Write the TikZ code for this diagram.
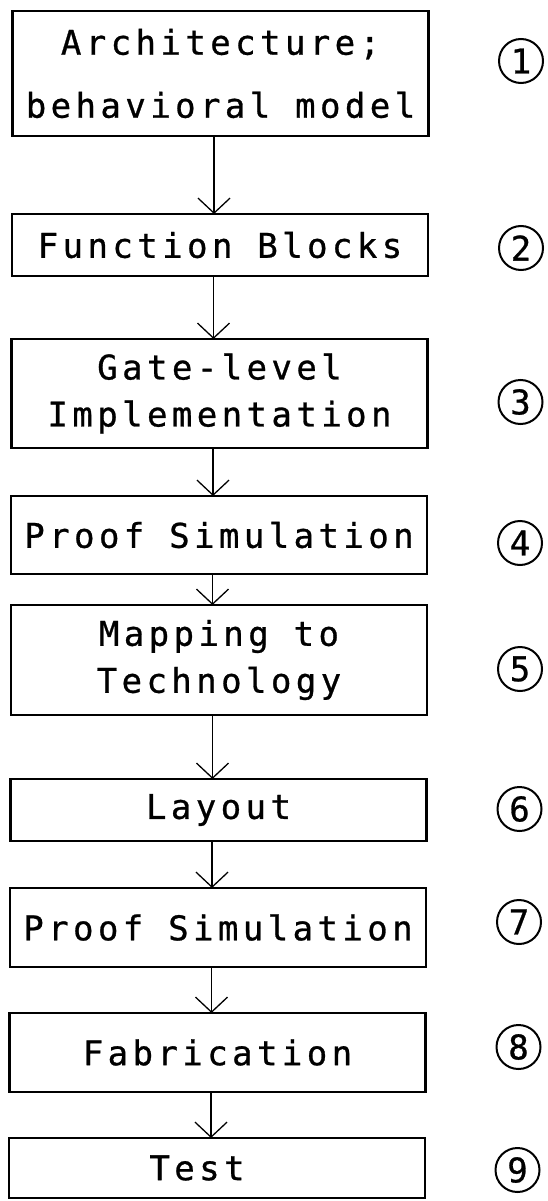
\documentclass[tikz,border=0pt]{standalone}
\usepackage{fontspec}
\setmonofont[LetterSpace=13, FakeBold=0.8]{DejaVu Sans Mono}
\newfontfamily\digitfont[FakeBold=0.8]{DejaVu Sans Mono}
\usetikzlibrary{arrows.meta}
\tikzset{
  stepbox/.style={draw, line width=2.4pt, rectangle, minimum width=416pt,
    inner sep=0pt, outer sep=0pt, align=center,
    font=\fontsize{34}{47}\selectfont\ttfamily},
  stepno/.style={draw, circle, line width=2pt, minimum size=44pt,
    inner sep=0pt, font=\fontsize{34}{40}\selectfont\digitfont},
  flow/.style={line width=1.3pt, -{Straight Barb[length=15pt, width=32pt, line width=1.3pt]}}
}
\begin{document}
\begin{tikzpicture}[x=1pt, y=-1pt]
\useasboundingbox (0,0) rectangle (548,1201);
% design steps, top to bottom
\node[stepbox, minimum height=125pt] (b1) at (220.5,73.5) {Architecture;\\[16pt]behavioral model};
\node[stepbox, minimum height=62pt]  (b2) at (220,245)    {Function Blocks};
\node[stepbox, minimum height=109pt] (b3) at (219.5,393.5) {Gate-level\\Implementation};
\node[stepbox, minimum height=78pt]  (b4) at (219,535)    {Proof Simulation};
\node[stepbox, minimum height=110pt] (b5) at (219,660)    {Mapping to\\Technology};
\node[stepbox, minimum height=62pt]  (b6) at (218.5,810)  {Layout};
\node[stepbox, minimum height=79pt]  (b7) at (218,927.5)  {Proof Simulation};
\node[stepbox, minimum height=79pt]  (b8) at (217.5,1052.5) {Fabrication};
\node[stepbox, minimum height=60pt]  (b9) at (217,1168)   {Test\hspace*{40pt}};
% step numbers
\node[stepno] (n1) at (521,61)   {1};
\node[stepno] (n2) at (521,248)  {2};
\node[stepno] (n3) at (520.5,402) {3};
\node[stepno] (n4) at (520,543)  {4};
\node[stepno] (n5) at (520,669)  {5};
\node[stepno] (n6) at (519.5,809) {6};
\node[stepno] (n7) at (519,922)  {7};
\node[stepno] (n8) at (518.5,1047) {8};
\node[stepno] (n9) at (517.5,1170) {9};
% connectors
\foreach \a/\b in {b1/b2,b2/b3,b3/b4,b4/b5,b5/b6,b6/b7,b7/b8,b8/b9}
  \draw[flow] ([xshift=-6.5pt]\a.south) -- ([xshift=-6.5pt]\a.south |- \b.north);
\end{tikzpicture}
\end{document}
